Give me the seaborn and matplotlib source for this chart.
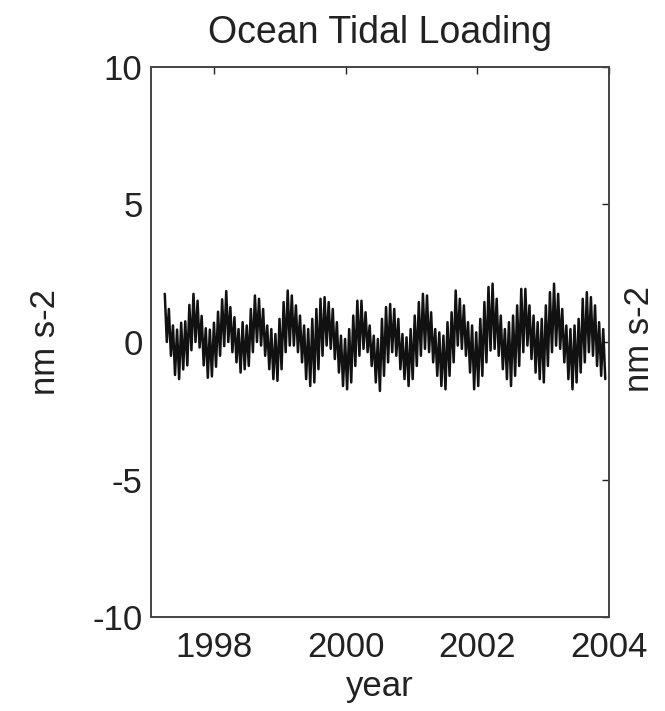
import numpy as np
import pandas as pd
import matplotlib
matplotlib.use("Agg")
import matplotlib.pyplot as plt
import seaborn as sns

# Upper and lower extremes of each fortnightly swing (nm s-2)
upper = [1.75, 1.2, 0.6, 0.45, 0.7, 0.75, 1.35, 1.75, 1.5, 0.95, 0.5, 0.45, 0.7, 1.1, 1.55, 1.85,
         1.27, 0.9, 0.47, 0.72, 0.6, 1.2, 1.69, 1.57, 1.2, 0.6, 0.47, 0.29, 0.84, 1.45, 1.87, 1.69, 1.33, 0.96,
         0.6, 0.47, 0.84, 1.2, 1.57, 1.63, 1.45, 1.2, 0.72, 0.23, 0.11, 0.47, 0.96, 1.5, 1.5, 1.08, 0.6, 0.23, 0.11,
         0.84, 1.27, 1.38, 1.2, 0.84, 0.29, 0.17, 0.47, 0.96, 1.45, 1.75, 1.69, 1.08, 0.47, 0.35, 0.23, 0.72, 1.08,
         1.87, 1.57, 1.33, 0.72, 0.6, 0.35, 0.84, 1.45, 2.0, 2.12, 1.57, 0.96, 0.47, 0.72, 0.96, 1.33, 1.93, 1.93,
         1.33, 0.96, 0.72, 0.84, 1.33, 1.81, 2.12, 1.75, 1.2, 0.6, 0.47, 0.6, 0.84, 1.57, 1.81, 1.63, 1.33, 0.72, 0.47]
lower = [0.0, -0.5, -1.2, -1.35, -1.0, -0.85, -0.3, 0.0, -0.2, -0.85, -1.3, -1.25, -0.9, -0.5, -0.15, 0.0,
         -0.37, -0.74, -1.11, -0.99, -0.87, -0.37, 0.0, -0.13, -0.5, -0.99, -1.35, -1.41, -0.99, -0.37, -0.13, -0.13, -0.37, -0.74,
         -1.35, -1.6, -1.47, -0.99, -0.5, -0.13, -0.25, -0.62, -1.11, -1.6, -1.72, -1.47, -0.87, -0.5, -0.25, -0.37, -0.87, -1.47, -1.78,
         -1.23, -0.74, -0.37, -0.5, -0.99, -1.35, -1.6, -1.35, -0.87, -0.5, -0.25, -0.37, -0.74, -1.23, -1.6, -1.72, -1.23, -0.74,
         -0.13, -0.25, -0.5, -1.11, -1.72, -1.6, -1.23, -0.74, -0.31, -0.25, -0.5, -0.99, -1.35, -1.6, -1.23, -0.87, -0.37, -0.13,
         -0.62, -1.11, -1.35, -1.47, -0.87, -0.37, -0.13, -0.25, -0.74, -1.35, -1.72, -1.47, -1.11, -0.74, -0.37, -0.5, -0.87, -1.23, -1.35]
start_year = 1997.25
end_year = 2003.91

xticks = [1998, 2000, 2002, 2004]
yticks = [-10, -5, 0, 5, 10]

# sample times, then interleave highs and lows into one zigzag trace
t = np.linspace(start_year, end_year, len(upper))
step = t[1] - t[0]
time = np.column_stack([t, t + step / 2]).ravel()
value = np.column_stack([upper, lower]).ravel()
df = pd.DataFrame({"year": time, "value": value})

sns.set_style("white")
plt.rcParams["font.family"] = ["Liberation Sans", "DejaVu Sans"]
plt.rcParams["axes.unicode_minus"] = False

fig = plt.figure(figsize=(6.65, 7.11), dpi=100)
ax = fig.add_axes([0.227, 0.132, 0.689, 0.774])

sns.lineplot(data=df, x="year", y="value", ax=ax, color="#111111", linewidth=1.8, sort=False, estimator=None)

ax.set_xlim(1997.04, 2004)
ax.set_ylim(-10, 10)
ax.set_xticks(xticks)
ax.set_yticks(yticks)
ax.tick_params(direction="in", length=5, width=1, top=True, right=True,
               labelsize=25, colors="#222222")
ax.tick_params(axis="y", pad=6)
ax.tick_params(axis="x", pad=10)
for s in ax.spines.values():
    s.set_color("#444444")
    s.set_linewidth(1.4)

ax.set_title("Ocean Tidal Loading", fontsize=27, pad=17, color="#222222")
ax.set_xlabel("year", fontsize=25, labelpad=4, color="#222222")
ax.set_ylabel("nm s-2", fontsize=25, labelpad=22, color="#222222")
# label of the neighbouring panel, cut off at the right
fig.text(0.962, 0.523, "nm s-2", rotation=90, fontsize=25, ha="center", va="center", color="#222222")

fig.savefig("out.png", dpi=100)
